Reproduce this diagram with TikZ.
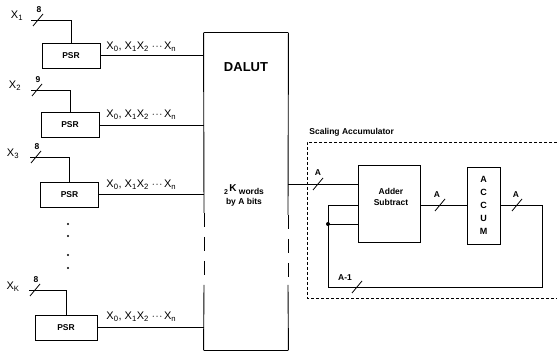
\documentclass[tikz,border=0pt]{standalone}
\usepackage{fontspec}
\setmainfont{Liberation Sans}
\newcommand{\sbs}[1]{\textsubscript{#1}}
\begin{document}
\begin{tikzpicture}[x=1pt,y=-1pt,line width=0.9pt,
  box/.style={draw,rectangle,inner sep=0pt},
  psrbox/.style={box,minimum width=58pt,minimum height=25pt,font=\fontsize{8.5}{10}\selectfont\bfseries},
  lbl/.style={inner sep=0pt,font=\fontsize{11}{12}\selectfont},
  small/.style={inner sep=0pt,font=\fontsize{8.5}{10}\selectfont\bfseries},
  bus/.style={line width=0.8pt}]
\useasboundingbox (0,0) rectangle (557,352);
% PSR boxes
\node[psrbox] (psr1) at (71,55.5) {PSR};
\node[psrbox] (psr2) at (70,125) {PSR};
\node[psrbox] (psr3) at (69.5,194.5) {PSR};
\node[psrbox,minimum width=62pt] (psr4) at (66,327.5) {PSR};
% input labels
\node[lbl] (x1) at (17,16) {X\sbs{1}};
\node[lbl] (x2) at (15,86) {X\sbs{2}};
\node[lbl] (x3) at (13,154) {X\sbs{3}};
\node[lbl] (xk) at (13,287) {X\sbs{K}};
\coordinate (in1) at (31,20);
\coordinate (in2) at (31,90);
\coordinate (in3) at (30,157);
\coordinate (in4) at (29,290);
\draw (in1) -| (psr1.north);
\draw (in2) -| (psr2.north);
\draw (in3) -| (psr3.north);
\draw (in4) -| (psr4.north);
% bus slashes on inputs
\foreach \xx/\yy/\nn [count=\i] in {38/20/8, 37/90/9, 36/157/8, 35/290/8}{
  \draw[bus] (\xx-5,\yy+6) -- (\xx+5,\yy-6);
  \node[small] (n\i) at (\xx+1,\yy-10) {\nn};
}
% dots
\foreach \yy [count=\i] in {224,236,255,268}{
  \fill (68,\yy) circle (1.1pt);
}
% DALUT box
\node[inner sep=0pt,minimum width=84pt,minimum height=317pt] (dalut) at (246,191.5) {};
\coordinate (dl1) at (204,213);
\coordinate (dl2) at (204,285);
\coordinate (dr1) at (288,215);
\coordinate (dr2) at (288,285);
\draw (dalut.north west) -- (dalut.north east);
\draw (dalut.south west) -- (dalut.south east);
\draw (dalut.north west) -- (dl1);
\draw (dalut.south west) -- (dl2);
\draw[dash pattern=on 14pt off 10pt] (dl1) -- (dl2);
\draw (dalut.north east) -- (dr1);
\draw (dalut.south east) -- (dr2);
\draw[dash pattern=on 14pt off 10pt] (dr1) -- (dr2);
\node[inner sep=0pt,font=\fontsize{13}{15}\selectfont\bfseries] (dt) at (246,67) {DALUT};
\node[inner sep=0pt,font=\fontsize{8.5}{10}\selectfont\bfseries,align=center] (dw) at (244,195) {{\fontsize{7}{8}\selectfont 2}\,\raisebox{3pt}{\fontsize{10}{10}\selectfont K} words\\[0pt] by A bits};
% PSR outputs
\foreach \i in {1,2,3,4}{
  \draw (psr\i.east) -- (dalut.west |- psr\i.east);
}
\foreach \i/\yy in {1/47,2/115,3/185,4/317}{
  \node[lbl,anchor=west] (xl\i) at (106,\yy) {X\sbs{0}, X\sbs{1}X\sbs{2} $\cdot\!\cdot\!\cdot$\,X\sbs{n}};
}
% Scaling accumulator
\node[small,anchor=west] (satext) at (309,132) {Scaling Accumulator};
\coordinate (sa1) at (557,142);
\coordinate (sa2) at (307,142);
\coordinate (sa3) at (307,298);
\coordinate (sa4) at (557,298);
\draw[densely dashed,line width=0.8pt] (sa1) -- (sa2) -- (sa3) -- (sa4);
% Adder and ACCUM
\node[box,minimum width=62pt,minimum height=77pt] (adder) at (389,203.5) {};
\node[small,align=center] (addt) at (391,197) {Adder\\[1pt]Subtract};
\node[box,minimum width=33pt,minimum height=77pt,font=\fontsize{9}{13}\selectfont\bfseries,align=center] (accum) at (483.5,205.5) {A\\C\\C\\U\\M};
% DALUT to adder
\coordinate (d1) at (288,184);
\draw (d1) -- (adder.west |- d1);
\draw[bus] (313,190) -- (323,178);
\node[small] (la) at (318,173) {A};
% adder to accum
\coordinate (a1) at (420,205);
\draw (a1) -- (accum.west |- a1);
\draw[bus] (435,211) -- (445,199);
\node[small] (lb) at (437,195) {A};
% accum output & feedback
\coordinate (o1) at (500,205);
\coordinate (o2) at (542,205);
\coordinate (f1) at (542,287);
\coordinate (f2) at (328,287);
\coordinate (f3) at (328,205);
\coordinate (dot) at (328,224);
\draw (o1) -- (o2) -- (f1) -- (f2) -- (f3) -- (adder.west |- f3);
\draw (dot) -- (adder.west |- dot);
\fill (dot) circle (2pt);
\draw[bus] (352,293) -- (362,281);
\draw[bus] (512,211) -- (522,199);
\node[small] (lc) at (516,195) {A};
\node[small] (ld) at (345,278) {A-1};
\end{tikzpicture}
\end{document}
